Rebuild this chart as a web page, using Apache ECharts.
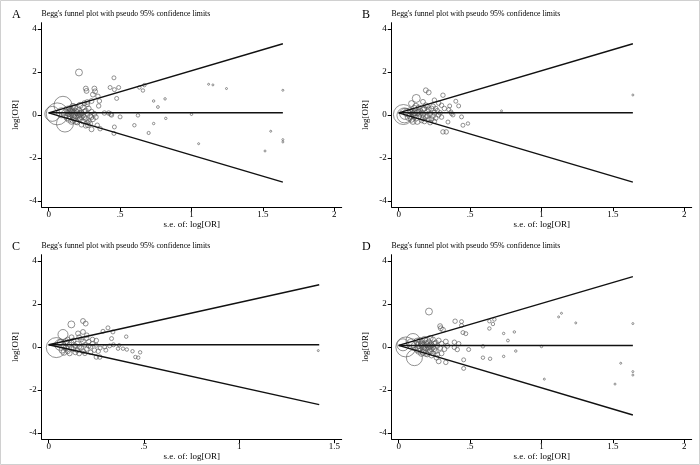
<!DOCTYPE html>
<html><head><meta charset="utf-8">
<script src="https://cdn.jsdelivr.net/npm/echarts@6/dist/echarts.min.js"></script>
<style>html,body{margin:0;padding:0;background:#fff}#c{width:700px;height:465px}</style>
</head><body><div id="c"></div>
<script>
// ---- data: [s.e. of log(OR), log(OR), weight] ----
const panelLetters = ['A', 'B', 'C', 'D'];
const plotTitle = "Begg's funnel plot with pseudo 95% confidence limits";
const xTicks = [[0, 0.5, 1, 1.5, 2], [0, 0.5, 1, 1.5, 2], [0, 0.5, 1, 1.5], [0, 0.5, 1, 1.5, 2]];
const yTicks = [-4, -2, 0, 2, 4];
// funnel: pooled estimate, max s.e., pseudo 95% limits at max s.e.
const funnelTheta = [0.1, 0.1, 0.1, 0.07];
const funnelSeMax = [1.64, 1.64, 1.42, 1.64];
const funnelUpperEnd = [3.32, 3.32, 2.9, 3.28];
const funnelLowerEnd = [-3.13, -3.13, -2.69, -3.17];

const pointsA = [
 [0.06,0.05,121],[0.10,0.45,81],[0.114,-0.40,72],[0.025,0.05,56],[0.09,0.1,25],
 [0.12,0.05,20],[0.13,0.25,12],[0.14,0.1,12],[0.15,-0.05,9],[0.16,0.2,9],[0.17,0.05,9],[0.18,-0.15,9],[0.19,0.15,9],[0.2,0.3,9],[0.21,0.0,9],[0.22,-0.2,6],[0.23,0.1,6],[0.24,0.35,6],[0.25,-0.1,6],[0.26,0.2,6],[0.27,0.05,6],[0.14,-0.2,9],[0.16,-0.3,9],[0.18,0.35,9],[0.2,-0.35,6],[0.22,0.45,9],[0.24,-0.3,6],[0.26,-0.2,6],[0.28,0.3,6],[0.13,-0.1,12],[0.15,0.3,9],[0.17,-0.25,9],[0.19,-0.05,9],[0.21,0.2,9],[0.23,-0.1,6],[0.25,0.15,6],[0.2,0.1,9],[0.18,0.0,9],[0.22,0.05,9],[0.24,0.0,6],[0.16,0.12,9],[0.29,-0.05,6],[0.3,0.15,6],[0.31,-0.2,6],[0.27,0.5,6],[0.25,0.55,6],[0.29,-0.4,6],[0.23,-0.45,6],[0.26,-0.5,6],[0.28,-0.3,6],[0.275,-0.48,6],[0.17,0.4,9],[0.19,-0.3,9],[0.21,-0.12,9],[0.15,0.18,9],[0.27,-0.35,6],[0.3,-0.1,6],[0.32,0.05,6],[0.33,-0.1,6],
 [0.212,1.98,12],[0.26,1.23,6],[0.265,1.12,6],[0.32,1.23,6],[0.325,1.1,6],[0.31,0.95,6],[0.345,0.87,5],[0.355,0.65,5],[0.35,0.42,5],[0.3,0.65,6],[0.27,0.6,6],[0.457,1.73,4],[0.43,1.28,4],[0.46,1.18,4],[0.49,1.28,4],[0.476,0.77,4],[0.39,0.09,5],[0.42,0.09,5],[0.44,0.0,5],[0.435,0.04,5],[0.5,-0.09,4],[0.46,-0.56,4],[0.457,-0.86,4],[0.36,-0.64,5],[0.3,-0.67,6],[0.34,-0.48,5],[0.635,1.28,3],[0.66,1.14,3],[0.67,1.39,3],[0.6,-0.48,3],[0.625,-0.02,3],[0.7,-0.84,2.5],[0.735,0.65,1.5],[0.765,0.37,2],[0.815,0.75,1.5],[0.82,-0.16,1.5],[0.735,-0.4,1.5],[1.0,0.03,1.5],[1.05,-1.34,1],[1.12,1.43,1],[1.15,1.4,1],[1.245,1.23,1],[1.64,1.15,1],[1.555,-0.76,1],[1.515,-1.68,1],[1.64,-1.15,1],[1.64,-1.26,1]
];
const pointsB = [
 [0.033,0.02,100],[0.04,-0.02,56],[0.045,0.05,30],
 [0.123,0.77,16],[0.09,0.53,9],[0.19,1.15,6],[0.21,1.05,6],[0.17,0.61,6],[0.25,0.69,5],[0.31,0.92,5],[0.4,0.64,4],[0.42,0.42,4],[0.357,0.42,4],[0.366,0.14,4],[0.44,-0.09,4],[0.345,-0.33,4],[0.45,-0.48,4],[0.485,-0.4,3],[0.31,-0.79,5],[0.333,-0.79,5],[0.72,0.19,1],[1.64,0.93,1],[0.37,0.06,4],[0.38,0.0,4],[0.32,0.3,5],[0.3,0.45,5],[0.28,0.55,5],[0.35,0.25,4],
 [0.06,0.1,16],[0.07,-0.1,12],[0.08,0.2,9],[0.09,-0.2,9],[0.1,0.05,9],[0.11,0.3,9],[0.12,-0.15,9],[0.13,0.1,9],[0.14,-0.05,9],[0.15,0.2,6],[0.16,-0.25,6],[0.17,0.0,6],[0.18,0.3,6],[0.19,-0.1,6],[0.2,0.15,6],[0.21,-0.2,6],[0.22,0.05,6],[0.23,0.3,6],[0.24,-0.05,6],[0.25,0.1,6],[0.26,-0.15,5],[0.27,0.2,5],[0.28,0.0,5],[0.29,0.1,5],[0.3,-0.1,5],[0.08,-0.05,9],[0.1,-0.3,9],[0.12,0.4,9],[0.14,0.35,6],[0.16,0.1,6],[0.18,-0.3,6],[0.2,0.4,6],[0.22,-0.35,6],[0.24,0.4,6],[0.13,-0.3,9],[0.15,0.05,6],[0.17,0.25,6],[0.19,0.45,6],[0.11,-0.05,9],[0.09,0.15,9],[0.23,-0.2,6],[0.26,0.3,5],[0.21,0.25,6],[0.25,-0.3,5],[0.11,0.1,9],[0.14,0.15,6],[0.17,-0.15,6],[0.2,-0.05,6]
];
const pointsC = [
 [0.04,-0.03,100],[0.075,0.58,25],[0.06,0.1,30],
 [0.119,1.05,12],[0.18,1.21,6],[0.194,1.09,6],[0.154,0.63,6],[0.18,0.7,6],[0.2,0.55,5],[0.311,0.89,4],[0.285,0.73,4],[0.337,0.7,4],[0.33,0.39,4],[0.407,0.48,3],[0.37,0.08,3],[0.364,-0.08,3],[0.39,-0.08,3],[0.41,-0.12,3],[0.44,-0.2,3],[0.455,-0.47,3],[0.48,-0.25,3],[0.47,-0.5,3],[0.25,-0.47,5],[0.268,-0.47,5],[0.294,0.0,4],[0.27,-0.05,4],[0.25,0.08,4],[1.415,-0.17,1],[0.32,0.05,4],[0.34,0.1,4],[0.3,-0.15,4],
 [0.06,0.2,9],[0.07,-0.15,9],[0.08,0.05,9],[0.09,0.25,9],[0.1,-0.2,6],[0.11,0.1,6],[0.12,-0.05,6],[0.13,0.3,6],[0.14,-0.25,6],[0.15,0.15,6],[0.16,0.0,6],[0.17,0.35,6],[0.18,-0.2,6],[0.19,0.1,5],[0.2,-0.1,5],[0.21,0.25,5],[0.22,0.0,5],[0.23,0.35,5],[0.24,-0.15,5],[0.08,-0.25,9],[0.1,0.35,6],[0.12,0.2,6],[0.14,0.05,6],[0.16,-0.3,6],[0.18,0.25,6],[0.2,0.4,5],[0.22,-0.25,5],[0.09,-0.05,9],[0.11,-0.3,6],[0.13,-0.1,6],[0.15,-0.15,6],[0.17,-0.05,6],[0.19,-0.3,5],[0.21,0.05,5],[0.23,0.15,5],[0.25,0.3,5],[0.26,-0.2,5],[0.12,0.45,6],[0.16,0.45,6]
];
const pointsD = [
 [0.05,0.0,100],[0.10,0.3,49],[0.11,-0.5,64],[0.03,0.1,36],[0.09,0.15,25],
 [0.12,0.05,20],[0.13,0.25,12],[0.14,0.1,12],[0.15,-0.05,9],[0.16,0.2,9],[0.17,0.05,9],[0.18,-0.15,9],[0.19,0.15,9],[0.2,0.3,9],[0.21,0.0,9],[0.22,-0.2,6],[0.23,0.1,6],[0.24,0.35,6],[0.25,-0.1,6],[0.26,0.2,6],[0.27,0.05,6],[0.14,-0.2,9],[0.16,-0.3,9],[0.18,0.35,9],[0.2,-0.35,6],[0.22,0.4,9],[0.24,-0.3,6],[0.26,-0.2,6],[0.28,0.3,6],[0.13,-0.1,12],[0.15,0.3,9],[0.17,-0.25,9],[0.19,-0.05,9],[0.21,0.2,9],[0.23,-0.1,6],[0.25,0.15,6],[0.2,0.1,9],[0.18,0.0,9],[0.22,0.05,9],[0.24,0.0,6],[0.16,0.12,9],[0.29,-0.05,6],[0.3,0.15,6],[0.27,-0.35,6],[0.23,-0.4,6],[0.19,-0.3,9],[0.21,-0.12,9],
 [0.212,1.65,12],[0.395,1.2,5],[0.44,1.18,4],[0.44,1.0,4],[0.29,0.97,6],[0.295,0.87,6],[0.31,0.8,6],[0.635,1.2,3],[0.635,0.86,3],[0.66,1.07,3],[0.67,1.28,3],[0.45,0.67,4],[0.47,0.62,4],[0.39,0.22,5],[0.42,0.15,5],[0.39,-0.02,5],[0.41,-0.12,5],[0.49,-0.12,4],[0.455,-0.6,4],[0.455,-1.0,4],[0.33,-0.72,5],[0.28,-0.67,6],[0.59,-0.5,3],[0.64,-0.55,3],[0.59,0.03,3],[0.735,0.63,1.5],[0.765,0.3,2],[0.81,0.7,1.5],[0.735,-0.44,1.5],[0.82,-0.19,1.5],[1.0,0.02,1.5],[1.02,-1.5,1],[1.12,1.4,1],[1.14,1.57,1],[1.24,1.12,1],[1.64,1.09,1],[1.555,-0.76,1],[1.515,-1.73,1],[1.64,-1.15,1],[1.64,-1.31,1],[0.33,0.25,6],[0.34,0.05,6],[0.32,-0.1,6],[0.3,-0.3,6],[0.265,-0.5,6]
];
const allPoints = [pointsA, pointsB, pointsC, pointsD];

// ---- layout ----
const panelOrigin = [[0, 0], [350, 0], [0, 232], [350, 232]];
const xRange = [[-0.049, 2.052], [-0.049, 2.052], [-0.0367, 1.538], [-0.049, 2.052]];
const FONT = 'Liberation Serif';
const grids = [], xAxes = [], yAxes = [], series = [], titles = [];
const fmtX = v => (v === 0.5 ? '.5' : String(v));

for (let i = 0; i < 4; i++) {
  const [ox, oy] = panelOrigin[i];
  grids.push({left: ox + 41.7, top: oy + 22.7, width: 300, height: 184.5});
  xAxes.push({
    gridIndex: i, type: 'value', min: xRange[i][0], max: xRange[i][1],
    name: 's.e. of: log[OR]', nameLocation: 'middle', nameGap: 9,
    nameTextStyle: {fontFamily: FONT, fontSize: 9, color: '#000'},
    axisLine: {show: true, onZero: false, lineStyle: {color: '#000', width: 1}},
    axisTick: {show: true, length: 4, lineStyle: {color: '#000'}, customValues: xTicks[i]},
    axisLabel: {fontFamily: FONT, fontSize: 9, color: '#000', margin: 3, customValues: xTicks[i], formatter: fmtX},
    splitLine: {show: false}
  });
  yAxes.push({
    gridIndex: i, type: 'value', min: -4.3, max: 4.3,
    name: 'log[OR]', nameLocation: 'middle', nameGap: 22, nameRotate: 90,
    nameTextStyle: {fontFamily: FONT, fontSize: 9, color: '#000'},
    axisLine: {show: true, onZero: false, lineStyle: {color: '#000', width: 1}},
    axisTick: {show: true, length: 4, lineStyle: {color: '#000'}, customValues: yTicks},
    axisLabel: {fontFamily: FONT, fontSize: 9, color: '#000', margin: 5, customValues: yTicks},
    splitLine: {show: false}
  });
  series.push({
    type: 'scatter', xAxisIndex: i, yAxisIndex: i, z: 2,
    data: allPoints[i].map(p => [p[0], p[1], p[2]]),
    symbol: 'circle',
    symbolSize: d => Math.max(2, 2 * Math.sqrt(d[2])),
    itemStyle: {color: 'rgba(255,255,255,0)', borderColor: '#555', borderWidth: 0.8},
    emphasis: {disabled: true}, animation: false
  });
  const lineStyle = {color: '#111', width: 1.4};
  const t = funnelTheta[i], s = funnelSeMax[i];
  [[[0, t], [s, funnelUpperEnd[i]]], [[0, t], [s, funnelLowerEnd[i]]], [[0, t], [s, t]]].forEach(seg => {
    series.push({type: 'line', xAxisIndex: i, yAxisIndex: i, z: 3, data: seg,
      symbol: 'none', lineStyle, animation: false, silent: true});
  });
  titles.push({text: panelLetters[i], left: ox + 12, top: oy + 9, padding: 0,
    textStyle: {fontFamily: FONT, fontSize: 12, fontWeight: 'normal', color: '#000'}});
  titles.push({text: plotTitle, left: ox + 41.5, top: oy + 10, padding: 0,
    textStyle: {fontFamily: FONT, fontSize: 7.8, fontWeight: 'normal', color: '#000'}});
}

const chart = echarts.init(document.getElementById('c'), null, {renderer: 'canvas'});
chart.setOption({
  backgroundColor: '#fff', animation: false,
  title: titles, grid: grids, xAxis: xAxes, yAxis: yAxes, series,
  graphic: [{type: 'rect', shape: {x: 0.5, y: 0.5, width: 699, height: 464},
    style: {fill: 'none', stroke: '#d0d0d0', lineWidth: 1}, silent: true}]
});
</script></body></html>
